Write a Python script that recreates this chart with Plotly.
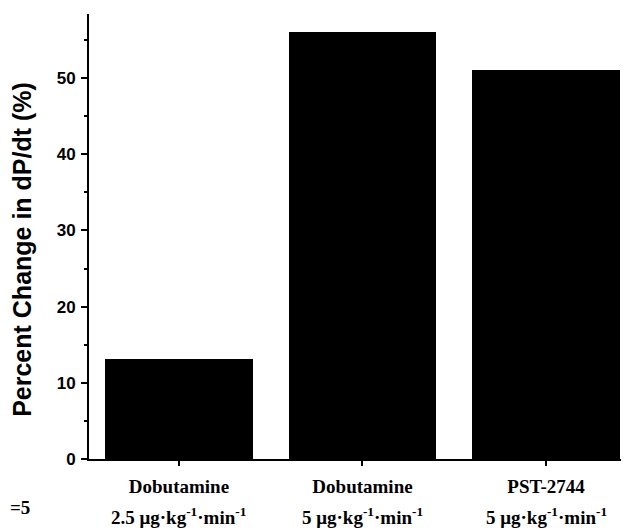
import plotly.graph_objects as go

categories = ["Dobutamine", "Dobutamine", "PST-2744"]
doses = ["2.5 μg·kg<sup>-1</sup>·min<sup>-1</sup>",
         "5 μg·kg<sup>-1</sup>·min<sup>-1</sup>",
         "5 μg·kg<sup>-1</sup>·min<sup>-1</sup>"]
values = [13.1, 56.0, 51.0]
y_ticks = [0, 10, 20, 30, 40, 50]

xpos = list(range(len(categories)))

fig = go.Figure()
fig.add_trace(go.Bar(x=xpos, y=values, width=0.806,
                     marker=dict(color="black", line=dict(width=0)),
                     showlegend=False))

serif = dict(family="Liberation Serif", size=19, color="black", weight="bold")

for xi, d in zip(xpos, doses):
    fig.add_annotation(x=xi, xref="x", y=0, yref="y", yshift=-57,
                       text=d, showarrow=False, font=serif,
                       xanchor="center", yanchor="middle")

fig.add_annotation(x=0, xref="paper", y=0, yref="y", xshift=-81, yshift=-48,
                   text="=5", showarrow=False, font=serif,
                   xanchor="left", yanchor="middle")

fig.add_annotation(x=0, xref="paper", y=0.47, yref="paper", xshift=-67,
                   text="Percent Change in dP/dt (%)", showarrow=False, textangle=-90,
                   font=dict(family="Liberation Sans", size=25, color="black", weight="bold"),
                   xanchor="center", yanchor="middle")

# page body adds an 8px offset; size and margins compensate for it
fig.update_layout(
    width=621, height=521,
    margin=dict(l=81, r=0, t=6, b=70),
    plot_bgcolor="white", paper_bgcolor="white",
    bargap=0,
)
fig.update_xaxes(
    range=[-0.49, 2.452], tickmode="array", tickvals=xpos, ticktext=categories,
    ticks="outside", ticklen=5, tickwidth=1.5, tickcolor="black",
    showline=True, linecolor="black", linewidth=1.5,
    showgrid=False, zeroline=False,
    tickfont=serif, ticklabelstandoff=4,
)
fig.update_yaxes(
    range=[0, 58.4], tickmode="array", tickvals=y_ticks,
    ticks="outside", ticklen=6, tickwidth=2, tickcolor="black",
    minor=dict(dtick=5, ticks="outside", ticklen=3, tickwidth=1.5, tickcolor="black"),
    showline=True, linecolor="black", linewidth=2,
    showgrid=False, zeroline=False,
    tickfont=dict(family="Liberation Sans", size=17, color="black", weight="bold"),
    ticklabelstandoff=2,
)

fig.write_html("out.html")
